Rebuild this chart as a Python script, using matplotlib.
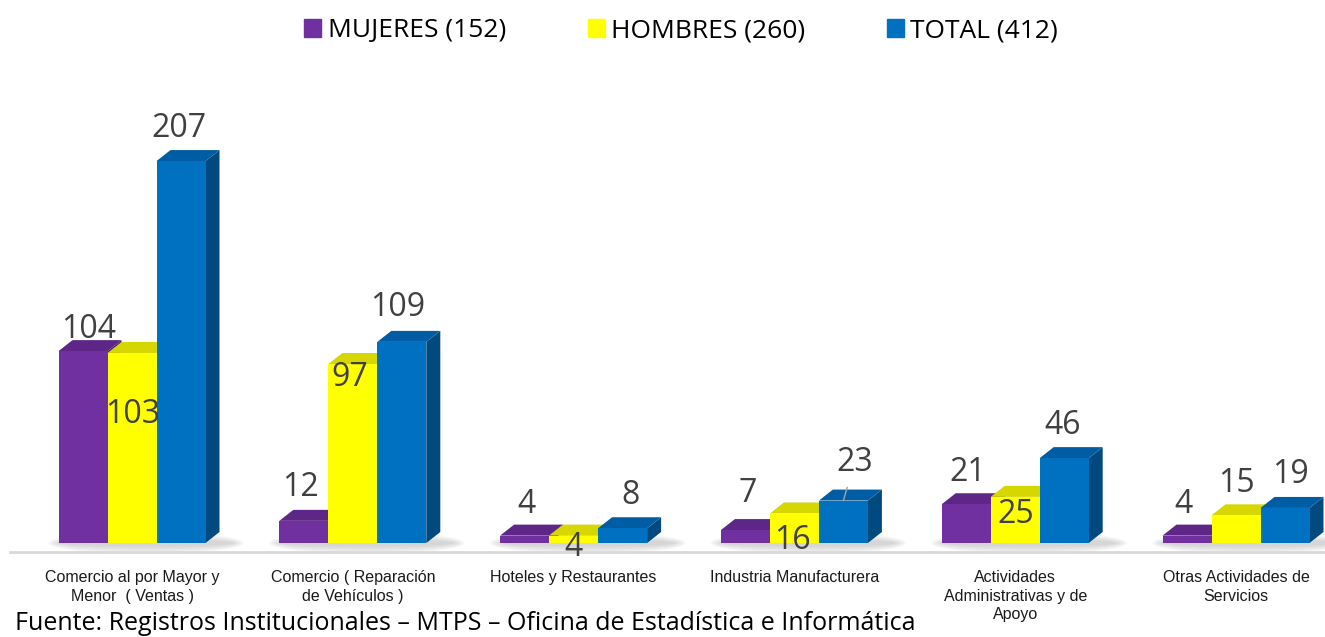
import matplotlib
matplotlib.use('Agg')
import matplotlib.pyplot as plt
from matplotlib.patches import Polygon, Rectangle, Ellipse
from matplotlib.transforms import blended_transform_factory

# datos
categorias = ['Comercio al por Mayor y\nMenor  ( Ventas )',
              'Comercio ( Reparación\nde Vehículos )',
              'Hoteles y Restaurantes',
              'Industria Manufacturera',
              'Actividades\nAdministrativas y de\nApoyo',
              'Otras Actividades de\nServicios']
mujeres = [104, 12, 4, 7, 21, 4]
hombres = [103, 97, 4, 16, 25, 15]
total = [207, 109, 8, 23, 46, 19]
series = ['MUJERES (152)', 'HOMBRES (260)', 'TOTAL (412)']
fuente = 'Fuente: Registros Institucionales – MTPS – Oficina de Estadística e Informática'

# estilo
W, H = 1325, 637
PX_X = 220.8          # px por categoría
PX_Y = 1.845          # px por unidad
X0_PX, BASE_PX = 132, 543
BW = 49 / PX_X
DX, DY = 14 / PX_X, 11 / PX_Y
frente = ['#7030A0', '#FFFF00', '#0070C0']
tapa = ['#5E2787', '#D6D600', '#005DA3']
lado = ['#4E1F70', '#B3B300', '#004A80']
# desplazamiento (px) de cada etiqueta respecto al centro superior de la barra
off_y = [[22, 33, 31, 37, 32, 31],
         [-62, -13, -12, -27, -18, 32],
         [33, 34, 33, 38, 33, 33]]
off_x = [[6, -3, 2, 2, 2, -4],
         [1, -3, 0, -2, 0, 0],
         [-2, -4, 8, 11, -2, 5]]

fig = plt.figure(figsize=(W / 100, H / 100), dpi=100)
ymin, ymax = -12, 250
bot_px = BASE_PX - ymin * PX_Y
top_px = BASE_PX - ymax * PX_Y
ax = fig.add_axes([0, (H - bot_px) / H, 1, (bot_px - top_px) / H])
ax.set_xlim(-X0_PX / PX_X, (W - X0_PX) / PX_X)
ax.set_ylim(ymin, ymax)
ax.axis('off')

# sombra bajo cada grupo
for i in range(len(categorias)):
    for k in range(6):
        ax.add_patch(Ellipse((i + DX, 0), 3 * BW + 0.12 + k * 0.02, 4 + k * 1.6,
                             color='#808080', alpha=0.06, lw=0, zorder=1))

# línea base
ax.plot([(10 - X0_PX) / PX_X, (W - X0_PX) / PX_X], [-5] * 2,
        color='#d9d9d9', lw=2, clip_on=False, zorder=1)

datos = [mujeres, hombres, total]
for j, vals in enumerate(datos):
    xs = [i + (j - 1) * BW for i in range(len(vals))]
    bars = ax.bar(xs, vals, BW, color=frente[j], zorder=3 + 2 * j, label=series[j])
    for b, v in zip(bars, vals):
        x0, x1 = b.get_x(), b.get_x() + b.get_width()
        ax.add_patch(Polygon([(x1, 0), (x1 + DX, DY), (x1 + DX, v + DY), (x1, v)],
                             closed=True, color=lado[j], lw=0, zorder=2 + 2 * j))
        ax.add_patch(Polygon([(x0, v), (x1, v), (x1 + DX, v + DY), (x0 + DX, v + DY)],
                             closed=True, color=tapa[j], lw=0, zorder=2 + 2 * j))
    for i, (x, v) in enumerate(zip(xs, vals)):
        flecha = None
        if j == 2 and i == 3:   # la etiqueta "23" lleva una línea guía
            flecha = dict(arrowstyle='-', color='#a6a6a6', lw=1, shrinkA=4, shrinkB=0)
        ax.annotate(str(v), (x, v), xytext=(off_x[j][i], off_y[j][i]),
                    textcoords='offset pixels', ha='center', va='center',
                    fontsize=23, color='#404040', family=['Open Sans', 'DejaVu Sans'],
                    zorder=20, annotation_clip=False, arrowprops=flecha)

# etiquetas de categoría
tr = blended_transform_factory(ax.transData, fig.transFigure)
for i, c in enumerate(categorias):
    ax.text(i, 1 - 570 / H, c, transform=tr, ha='center', va='top', fontsize=11.5,
            linespacing=1.3, color='#1a1a1a',
            family=['Liberation Sans Narrow', 'Liberation Sans', 'DejaVu Sans'])

# leyenda
handles = [Rectangle((0, 0), 1, 1, color=c) for c in frente]
fig.legend(handles, series, loc='center', bbox_to_anchor=(681 / W, 1 - 31 / H),
           ncol=3, frameon=False, handlelength=0.65, handleheight=0.68,
           handletextpad=0.23, columnspacing=3.1,
           prop={'family': 'Open Sans', 'size': 19})

fig.text(15 / W, 1 / H, fuente, ha='left', va='bottom', fontsize=18,
         family=['Open Sans', 'DejaVu Sans'])

fig.savefig('out.png', dpi=100)
